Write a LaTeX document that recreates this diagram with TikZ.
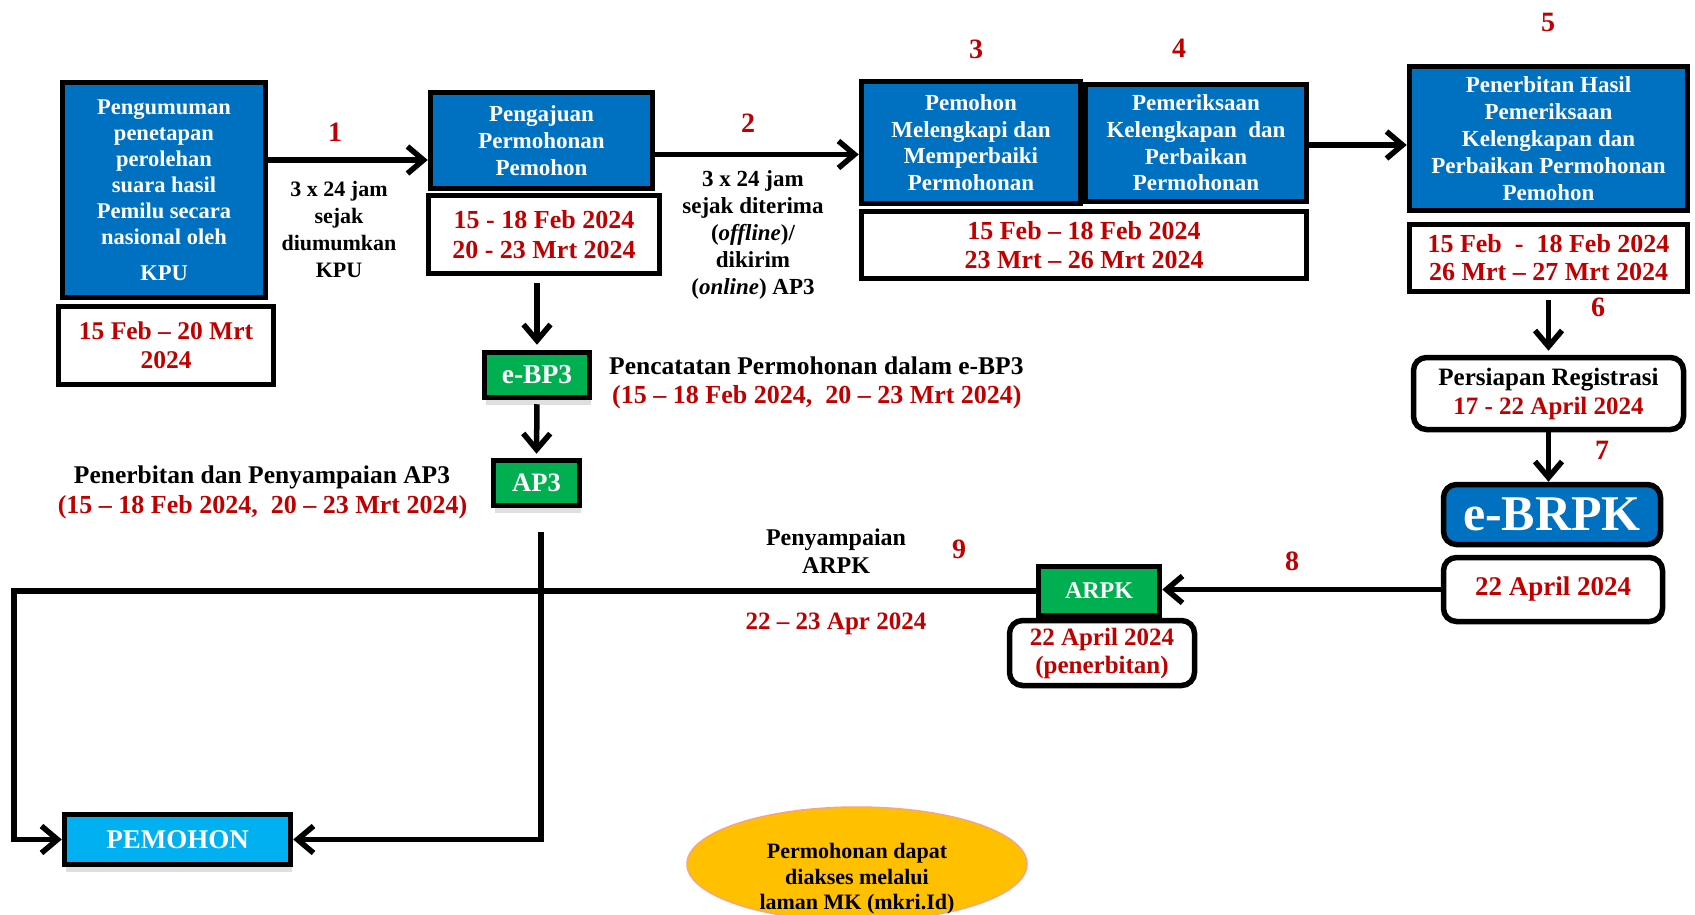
\documentclass[tikz,border=0pt]{standalone}
\usepackage{fontspec}
\setmainfont{Liberation Serif}
\usetikzlibrary{arrows.meta,shapes.geometric,shadows}
\definecolor{boxblue}{HTML}{0070C0}
\definecolor{boxgreen}{HTML}{00B050}
\definecolor{datered}{HTML}{C00000}
\definecolor{skyblue}{HTML}{00B0F0}
\definecolor{noteorange}{HTML}{FFC000}
\definecolor{noteedge}{HTML}{F4A582}
\newcommand{\fs}[2]{\bfseries\fontsize{#1}{#2}\selectfont}

\begin{document}
\begin{tikzpicture}[x=1pt, y=-1pt,
  frame/.style={draw=black, line width=5.5pt, inner sep=0pt, align=center},
  bluebox/.style={frame, fill=boxblue, text=white},
  datebox/.style={frame, fill=white, text=datered},
  greenbox/.style={frame, fill=boxgreen, text=white,
    drop shadow={shadow xshift=1.5pt, shadow yshift=-7pt, opacity=0.25}},
  roundbox/.style={rounded corners=13pt},
  link/.style={line width=5.5pt, -{Straight Barb[length=16pt, width=27pt]}},
  stepno/.style={text=datered, font=\fs{28}{30}, inner sep=0pt},
  note/.style={align=center, inner sep=0pt, font=\fs{22}{27}},
  rednote/.style={note, text=datered},
]
\useasboundingbox (0,0) rectangle (1695,915);

% --- stage 1: announcement by KPU
\node[bluebox, minimum width=203pt, minimum height=215pt, font=\fs{22.5}{26}] (pengumuman) at (164,190)
  {Pengumuman\\penetapan\\perolehan\\suara hasil\\Pemilu secara\\nasional oleh\\[10pt]KPU};
\node[datebox, minimum width=215pt, minimum height=78pt, font=\fs{25.5}{29}] (pengumumandate) at (166,345.5)
  {15 Feb – 20 Mrt\\2024};

% --- stage 2: submission
\node[bluebox, minimum width=222pt, minimum height=96pt, font=\fs{23}{27}] (pengajuan) at (541.5,140.5)
  {Pengajuan\\Permohonan\\Pemohon};
\node[datebox, minimum width=231pt, minimum height=78pt, font=\fs{26}{29.5}] (pengajuandate) at (544,234.5)
  {15 - 18 Feb 2024\\20 - 23 Mrt 2024};

% --- stages 3 and 4
\node[bluebox, minimum width=219pt, minimum height=122pt, font=\fs{23}{26.7}] (melengkapi) at (971,142.5)
  {Pemohon\\Melengkapi dan\\Memperbaiki\\Permohonan};
\node[bluebox, minimum width=221pt, minimum height=117pt, font=\fs{23}{26.7}] (pemeriksaan) at (1196,143)
  {Pemeriksaan\\Kelengkapan\ \ dan\\Perbaikan\\Permohonan};
\node[datebox, minimum width=445pt, minimum height=67pt, font=\fs{26}{29}] (perbaikandate) at (1084,245)
  {15 Feb – 18 Feb 2024\\23 Mrt – 26 Mrt 2024};

% --- stage 5
\node[bluebox, minimum width=278pt, minimum height=144pt, font=\fs{23}{27}] (penerbitan) at (1548.5,138.5)
  {Penerbitan Hasil\\Pemeriksaan\\Kelengkapan dan\\Perbaikan Permohonan\\Pemohon};
\node[datebox, minimum width=278pt, minimum height=67pt, font=\fs{26}{28}] (penerbitandate) at (1548.5,258)
  {15 Feb\ \ -\ \ 18 Feb 2024\\26 Mrt – 27 Mrt 2024};

% --- stages 6 and 7
\node[frame, roundbox, fill=white, minimum width=270pt, minimum height=72pt, font=\fs{25}{29}] (persiapan) at (1548.5,393.5)
  {Persiapan Registrasi\\\textcolor{datered}{17 - 22 April 2024}};
\node[bluebox, roundbox, minimum width=217pt, minimum height=60pt, font=\fs{50}{54}] (ebrpk) at (1552,514.5) {e-BRPK};
\node[datebox, roundbox, minimum width=219pt, minimum height=64pt, font=\fs{27}{30}] (ebrpkdate) at (1553,589.5) {22 April 2024};

% --- stage 8: ARPK
\node[greenbox, minimum width=121pt, minimum height=49pt, font=\fs{24}{28}] (arpk) at (1099,591) {ARPK};
\node[datebox, roundbox, minimum width=185pt, minimum height=65pt, font=\fs{25}{28}] (arpkdate) at (1102,653)
  {22 April 2024\\(penerbitan)};

% --- e-BP3 and AP3
\node[greenbox, minimum width=105pt, minimum height=45pt, font=\fs{27.5}{30}] (ebp3) at (537,375) {e-BP3};
\node[greenbox, minimum width=86pt, minimum height=45pt, font=\fs{26.5}{30}] (ap3) at (536.5,483) {AP3};

% --- applicant
\node[frame, fill=skyblue, text=white, minimum width=226pt, minimum height=50pt, font=\fs{27}{30},
  drop shadow={shadow xshift=1.5pt, shadow yshift=-7pt, opacity=0.25}] (pemohon) at (177.5,839.5) {PEMOHON};

% --- public access note
\node[ellipse, fill=noteorange, draw=noteedge, line width=1.5pt, minimum width=340pt, minimum height=114pt] (access) at (857,864) {};
\node[note, font=\fs{22}{25.5}] (accesstext) at (857,879) {Permohonan dapat\\diakses melalui\\laman MK (mkri.Id)};

% --- connectors
\coordinate (s1) at ([yshift=30pt]pengumuman.east);
\draw[link] (s1) -- (s1 -| pengajuan.west);
\coordinate (s2) at ([yshift=-14pt]pengajuan.east);
\draw[link] (s2) -- (s2 -| melengkapi.west);
\coordinate (s3) at ([yshift=-2pt]pemeriksaan.east);
\draw[link] (s3) -- (s3 -| penerbitan.west);
\draw[link, shorten <=6pt, shorten >=4pt] (penerbitandate.south) -- (persiapan.north);
\draw[link] (persiapan.south) -- (persiapan.south |- ebrpk.north);
\draw[link] (ebrpkdate.west) -- (ebrpkdate.west -| arpk.east);
\coordinate (loopL) at (14,0);
\draw[link] (arpk.west) -- (arpk.west -| loopL) |- (pemohon.west);
\draw[link, shorten <=7pt, shorten >=5pt] (ebp3.north |- pengajuandate.south) -- (ebp3.north);
\draw[link, shorten <=4pt, shorten >=4pt] (ebp3.south) -- (ap3.north);
\coordinate (ap3tail) at ([xshift=4.5pt, yshift=-24pt]ap3.south);
\draw[link] (ap3tail) |- (pemohon.east);

% --- step numbers
\node[stepno] (no1) at (335,132) {1};
\node[stepno] (no2) at (748,123) {2};
\node[stepno] (no3) at (976,49) {3};
\node[stepno] (no4) at (1179,48) {4};
\node[stepno] (no5) at (1548,22) {5};
\node[stepno] (no6) at (1598,307) {6};
\node[stepno] (no7) at (1602,450) {7};
\node[stepno] (no8) at (1292,561) {8};
\node[stepno] (no9) at (959,549) {9};

% --- captions
\node[note] (cap1) at (339,229.5) {3 x 24 jam\\sejak\\diumumkan\\KPU};
\node[note, font=\fs{23}{27}] (cap2) at (753,234.5) {3 x 24 jam\\sejak diterima\\(\textit{offline})/\\dikirim\\(\textit{online}) AP3};
\node[note, anchor=west, font=\fs{25.5}{28}] (capebp3) at (609,366) {Pencatatan Permohonan dalam e-BP3};
\node[rednote, anchor=west, font=\fs{26}{28}] (capebp3date) at (612,397) {(15 – 18 Feb 2024,\ \ 20 – 23 Mrt 2024)};
\node[note, font=\fs{25.5}{28}] (capap3) at (262,477) {Penerbitan dan Penyampaian AP3};
\node[rednote, font=\fs{26}{28}] (capap3date) at (262.5,507) {(15 – 18 Feb 2024,\ \ 20 – 23 Mrt 2024)};
\node[note, font=\fs{24}{28}] (caparpk) at (836,551) {Penyampaian\\ARPK};
\node[rednote, font=\fs{25}{28}] (caparpkdate) at (836,624) {22 – 23 Apr 2024};
\end{tikzpicture}
\end{document}
